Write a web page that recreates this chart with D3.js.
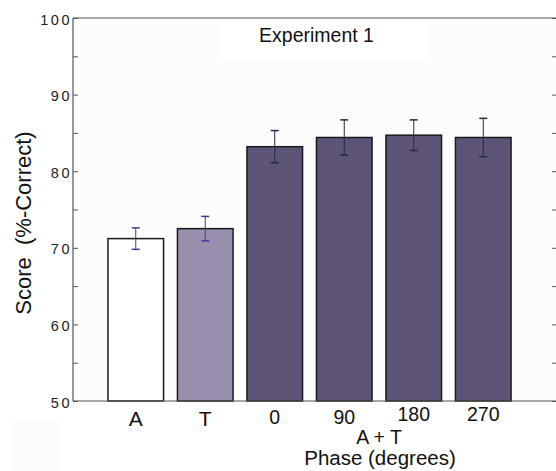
<!DOCTYPE html>
<html>
<head>
<meta charset="utf-8">
<script src="https://cdn.jsdelivr.net/npm/d3@7"></script>
<style>
  body { margin: 0; background: #fff; }
  svg { display: block; font-family: "Liberation Sans", Arial, sans-serif; }
</style>
</head>
<body>
<div id="chart"></div>
<script>
// data
const categories = ["A", "T", "0", "90", "180", "270"];
const scores = [71.2, 72.5, 83.2, 84.4, 84.7, 84.4];
const errors = [1.4, 1.6, 2.1, 2.3, 2.0, 2.5];
const yTicks = [50, 60, 70, 80, 90, 100];
const yMinorTicks = [55, 65, 75, 85, 95];

const width = 556, height = 471;
const svg = d3.select("#chart").append("svg")
  .attr("width", width)
  .attr("height", height);

const plotLeft = 73, plotRight = 557, plotTop = 18, plotBottom = 401;

const x = d3.scaleBand()
  .domain(categories)
  .range([101, 518])
  .paddingInner(0.2)
  .paddingOuter(0.1);

const y = d3.scaleLinear()
  .domain([50, 100])
  .range([plotBottom, plotTop]);

// plot background
svg.append("rect")
  .attr("x", plotLeft).attr("y", plotTop)
  .attr("width", plotRight - plotLeft).attr("height", plotBottom - plotTop)
  .attr("fill", "#fcfcfc");

// faint box bottom-left
svg.append("rect")
  .attr("x", 13).attr("y", 420)
  .attr("width", 47).attr("height", 51)
  .attr("fill", "#fcfcfc");

// title box
svg.append("rect")
  .attr("x", 221).attr("y", 22)
  .attr("width", 207).attr("height", 38)
  .attr("fill", "#ffffff");
svg.append("text")
  .attr("x", 316.5).attr("y", 41.5)
  .attr("text-anchor", "middle")
  .attr("font-size", 19.5)
  .attr("fill", "#111")
  .text("Experiment 1");

const fills = ["#ffffff", "#9a90ae", "#5e5478", "#5e5478", "#5e5478", "#5e5478"];
const errColor = ["#403a98", "#403a98", "#2a2840", "#2a2840", "#2a2840", "#2a2840"];

// bars
svg.append("g")
  .selectAll("rect")
  .data(categories)
  .join("rect")
  .attr("x", d => x(d))
  .attr("y", (d, i) => y(scores[i]))
  .attr("width", x.bandwidth())
  .attr("height", (d, i) => plotBottom - y(scores[i]))
  .attr("fill", (d, i) => fills[i])
  .attr("stroke", "#1a1a1a")
  .attr("stroke-width", 1.5);

// error bars
const eb = svg.append("g")
  .selectAll("g")
  .data(categories)
  .join("g")
  .attr("stroke", (d, i) => errColor[i])
  .attr("stroke-width", 1);
eb.append("line")
  .attr("x1", d => x(d) + x.bandwidth() / 2)
  .attr("x2", d => x(d) + x.bandwidth() / 2)
  .attr("y1", (d, i) => y(scores[i] + errors[i]))
  .attr("y2", (d, i) => y(scores[i] - errors[i]));
[1, -1].forEach(s => {
  eb.append("line")
    .attr("x1", d => x(d) + x.bandwidth() / 2 - 4)
    .attr("x2", d => x(d) + x.bandwidth() / 2 + 4)
    .attr("y1", (d, i) => y(scores[i] + s * errors[i]))
    .attr("y2", (d, i) => y(scores[i] + s * errors[i]))
    .attr("stroke-width", 1.5);
});

// frame lines
const frame = svg.append("g").attr("stroke", "#555").attr("stroke-width", 1.2);
frame.append("line").attr("x1", plotLeft).attr("x2", plotLeft).attr("y1", plotTop).attr("y2", plotBottom);
frame.append("line").attr("x1", plotLeft).attr("x2", width).attr("y1", plotTop).attr("y2", plotTop);
frame.append("line").attr("x1", plotLeft).attr("x2", width).attr("y1", plotBottom).attr("y2", plotBottom);

// left axis, ticks inward
svg.append("g")
  .attr("transform", `translate(${plotLeft},0)`)
  .call(d3.axisRight(y).tickValues(yTicks.concat(yMinorTicks)).tickSize(5).tickFormat(""))
  .call(g => g.select(".domain").remove())
  .selectAll("line").attr("stroke", "#555");

// right ticks
svg.append("g")
  .attr("transform", `translate(${plotRight},0)`)
  .call(d3.axisLeft(y).tickValues(yTicks.concat(yMinorTicks)).tickSize(5).tickFormat(""))
  .call(g => g.select(".domain").remove())
  .selectAll("line").attr("stroke", "#555");

// y tick labels with spaced digits
svg.append("g")
  .selectAll("text")
  .data(yTicks)
  .join("text")
  .attr("x", plotLeft - 1)
  .attr("y", d => y(d) + 6.5)
  .attr("text-anchor", "end")
  .attr("font-size", 14.5)
  .attr("letter-spacing", 2.5)
  .attr("fill", "#222")
  .text(d => String(d));

// x labels
const xShift = { "180": -3, "270": -3, "A": 2, "T": 2 };
svg.append("g")
  .selectAll("text")
  .data(categories)
  .join("text")
  .attr("x", d => x(d) + x.bandwidth() / 2)
  .attr("y", d => 423.5 + (xShift[d] || 0))
  .attr("text-anchor", "middle")
  .attr("font-size", d => (d === "A" || d === "T") ? 21 : 19.5)
  .attr("fill", "#111")
  .text(d => d);

svg.append("text")
  .attr("x", 379).attr("y", 443.5)
  .attr("text-anchor", "middle")
  .attr("font-size", 19.5)
  .attr("fill", "#111")
  .text("A + T");
svg.append("text")
  .attr("x", 380).attr("y", 464.5)
  .attr("text-anchor", "middle")
  .attr("font-size", 20.5)
  .attr("fill", "#111")
  .text("Phase (degrees)");

// y axis label
svg.append("text")
  .attr("transform", "translate(31,223) rotate(-90)")
  .attr("text-anchor", "middle")
  .attr("font-size", 22)
  .attr("fill", "#111")
  .style("white-space", "pre")
  .text("Score  (%-Correct)");
</script>
</body>
</html>
